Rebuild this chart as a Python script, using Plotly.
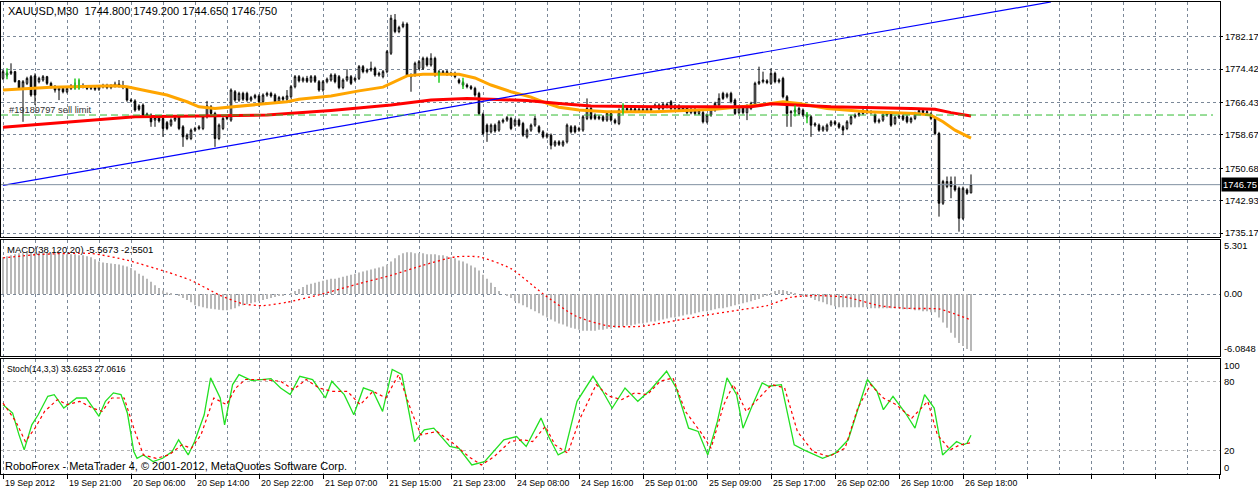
import plotly.graph_objects as go

# ---------------- price data (XAUUSD, M30), one value per bar ----------------
OPEN = [
    1772.2, 1773.0, 1773.4, 1773.8, 1771.6, 1769.8, 1771.0, 1772.6, 1772.8, 1771.4,
    1771.8, 1772.6, 1771.0, 1770.2, 1769.4, 1769.8, 1769.0, 1769.8, 1770.4, 1770.0,
    1770.5, 1770.2, 1769.8, 1770.0, 1769.6, 1770.2, 1770.5, 1770.0, 1770.4, 1770.8,
    1770.4, 1770.0, 1767.0, 1766.8, 1765.6, 1765.8, 1763.4, 1763.4, 1762.2, 1762.8,
    1762.6, 1761.6, 1761.0, 1762.2, 1763.0, 1760.6, 1757.8, 1757.8, 1759.8, 1760.2,
    1760.2, 1763.0, 1765.4, 1763.8, 1757.8, 1760.2, 1762.6, 1762.2, 1769.0, 1767.0,
    1768.6, 1768.6, 1767.0, 1767.6, 1768.0, 1766.6, 1768.2, 1768.6, 1768.2, 1766.6,
    1767.6, 1767.2, 1767.8, 1770.2, 1772.6, 1771.6, 1772.2, 1771.5, 1772.6, 1771.4,
    1769.4, 1771.4, 1771.8, 1773.0, 1772.6, 1770.0, 1771.8, 1772.6, 1771.8, 1772.2,
    1775.0, 1773.8, 1774.2, 1774.6, 1773.0, 1772.6, 1773.8, 1778.2, 1786.2, 1783.4,
    1784.6, 1785.2, 1773.0, 1773.0, 1774.6, 1774.6, 1777.0, 1775.4, 1777.0, 1773.8,
    1773.4, 1773.8, 1773.2, 1773.4, 1771.8, 1771.2, 1770.6, 1770.2, 1769.8, 1768.6,
    1763.6, 1761.0, 1759.4, 1761.0, 1759.8, 1761.8, 1762.2, 1762.6, 1761.0, 1762.2,
    1761.4, 1758.2, 1759.8, 1761.0, 1760.6, 1759.4, 1758.2, 1758.6, 1756.2, 1757.0,
    1756.2, 1757.0, 1760.6, 1760.6, 1759.8, 1759.8, 1762.6, 1765.0, 1763.4, 1762.6,
    1763.0, 1762.2, 1763.8, 1762.2, 1761.4, 1764.6, 1765.0, 1764.6, 1764.9, 1764.3,
    1764.8, 1764.4, 1764.9, 1765.4, 1765.8, 1765.0, 1766.0, 1766.6, 1765.0, 1765.6,
    1764.6, 1765.2, 1764.0, 1764.8, 1763.8, 1764.0, 1761.8, 1763.4, 1764.6, 1765.8,
    1768.6, 1767.8, 1768.6, 1767.0, 1764.0, 1765.3, 1764.0, 1765.0, 1765.8, 1771.0,
    1771.4, 1771.6, 1771.0, 1773.4, 1771.4, 1772.2, 1767.8, 1764.0, 1764.2, 1763.8,
    1764.6, 1763.4, 1763.0, 1761.0, 1761.0, 1759.8, 1759.8, 1761.0, 1761.8, 1761.3,
    1760.6, 1760.2, 1761.4, 1763.0, 1763.4, 1763.8, 1764.5, 1764.0, 1763.4, 1761.8,
    1762.2, 1763.4, 1763.8, 1761.4, 1762.9, 1763.2, 1763.0, 1761.8, 1762.6, 1763.8,
    1764.5, 1764.0, 1763.7, 1762.6, 1759.0, 1742.3, 1746.3, 1747.5, 1746.5, 1745.9,
    1738.7, 1745.5, 1744.8,
]
CLOSE = [
    1773.8, 1773.4, 1773.8, 1771.4, 1769.8, 1771.4, 1772.2, 1768.2, 1768.2, 1772.2,
    1772.6, 1771.0, 1770.2, 1769.4, 1769.8, 1769.0, 1769.8, 1770.4, 1770.0, 1770.5,
    1770.2, 1769.8, 1770.0, 1769.6, 1770.2, 1770.5, 1770.0, 1770.4, 1770.8, 1770.4,
    1770.0, 1767.0, 1766.8, 1764.6, 1764.8, 1763.4, 1763.6, 1761.8, 1762.8, 1762.0,
    1760.2, 1760.2, 1762.2, 1762.8, 1760.2, 1758.2, 1758.6, 1759.8, 1760.2, 1760.6,
    1763.0, 1765.6, 1763.8, 1757.8, 1761.0, 1762.6, 1763.0, 1769.4, 1767.0, 1768.6,
    1767.2, 1767.0, 1767.6, 1768.1, 1766.6, 1768.2, 1768.6, 1768.0, 1766.6, 1767.6,
    1767.2, 1768.0, 1770.2, 1772.6, 1771.6, 1772.2, 1771.5, 1772.6, 1771.5, 1769.4,
    1771.4, 1772.0, 1773.0, 1771.4, 1770.0, 1771.8, 1772.6, 1771.0, 1772.2, 1775.0,
    1773.8, 1774.2, 1774.6, 1773.0, 1773.4, 1773.8, 1778.6, 1786.6, 1783.4, 1784.4,
    1785.2, 1773.0, 1772.6, 1775.8, 1776.2, 1777.0, 1775.4, 1777.0, 1773.0, 1773.4,
    1773.8, 1773.2, 1773.4, 1772.6, 1771.2, 1770.6, 1770.2, 1769.8, 1768.2, 1763.8,
    1759.0, 1759.4, 1761.0, 1759.6, 1761.8, 1762.2, 1762.8, 1760.2, 1762.2, 1761.0,
    1758.6, 1759.8, 1761.0, 1762.6, 1759.4, 1758.2, 1758.8, 1756.2, 1757.0, 1756.4,
    1757.0, 1761.0, 1759.4, 1759.4, 1760.2, 1763.0, 1765.0, 1762.6, 1762.6, 1763.0,
    1762.2, 1763.8, 1762.2, 1761.6, 1764.6, 1765.0, 1764.6, 1764.9, 1764.3, 1764.8,
    1764.4, 1764.9, 1764.6, 1765.8, 1765.0, 1766.0, 1765.4, 1765.0, 1765.6, 1764.6,
    1765.2, 1764.0, 1764.8, 1763.8, 1764.5, 1761.8, 1763.4, 1765.0, 1766.2, 1767.4,
    1767.4, 1768.4, 1766.6, 1763.8, 1765.3, 1764.0, 1765.6, 1766.2, 1771.0, 1771.4,
    1771.8, 1771.2, 1773.4, 1771.4, 1771.8, 1767.8, 1763.8, 1764.2, 1764.6, 1765.0,
    1763.4, 1763.0, 1761.0, 1761.3, 1759.8, 1760.5, 1761.0, 1761.8, 1761.3, 1760.5,
    1759.8, 1761.8, 1763.0, 1763.4, 1763.8, 1764.5, 1764.0, 1764.2, 1761.8, 1762.2,
    1763.4, 1763.7, 1761.0, 1762.9, 1763.2, 1762.4, 1761.8, 1762.6, 1763.8, 1764.5,
    1764.0, 1764.2, 1762.6, 1759.0, 1742.3, 1747.5, 1747.5, 1746.3, 1745.5, 1738.7,
    1745.9, 1744.7, 1746.75,
]
UPPER_WICK = [
    0.4, 0.4, 2.0, 0.2, 0.2, 0.4, 0.4, 0.4, 0.6, 0.4,
    0.4, 0.2, 0.4, 0.4, 0.4, 0.4, 0.4, 0.4, 0.8, 1.3,
    0.5, 0.4, 0.4, 0.4, 0.4, 0.4, 0.4, 0.4, 0.6, 1.0,
    1.2, 0.2, 0.4, 0.4, 0.4, 0.4, 0.4, 0.4, 0.4, 0.4,
    0.4, 0.4, 0.4, 0.4, 0.4, 0.4, 0.4, 0.4, 0.4, 0.4,
    0.4, 1.2, 0.4, 0.4, 0.4, 0.4, 0.4, 0.4, 0.4, 0.4,
    0.4, 0.4, 0.4, 0.4, 0.4, 0.4, 0.4, 0.4, 0.4, 0.4,
    0.4, 1.4, 0.4, 0.4, 0.4, 0.4, 0.6, 0.4, 0.4, 0.4,
    0.4, 0.4, 0.4, 0.4, 0.4, 0.4, 1.8, 0.4, 0.4, 0.4,
    0.4, 0.4, 1.6, 0.4, 0.4, 0.4, 0.4, 0.8, 1.4, 0.4,
    0.6, 0.4, 0.4, 0.4, 0.4, 0.4, 0.4, 1.2, 0.4, 0.4,
    0.4, 0.4, 0.4, 0.4, 0.4, 0.4, 0.4, 0.4, 0.4, 0.4,
    0.4, 0.4, 0.4, 0.4, 0.4, 0.4, 0.4, 0.4, 0.4, 0.4,
    0.4, 0.4, 0.4, 0.6, 0.4, 0.4, 0.4, 0.4, 0.4, 0.4,
    0.4, 0.4, 0.4, 0.4, 0.4, 0.4, 2.4, 0.4, 0.4, 0.4,
    0.4, 0.4, 0.4, 0.4, 0.4, 0.4, 0.4, 0.4, 0.4, 0.4,
    0.4, 0.4, 0.4, 0.4, 0.4, 0.4, 0.4, 0.4, 0.4, 0.4,
    0.4, 0.4, 0.4, 0.4, 0.4, 0.4, 0.4, 0.4, 0.4, 1.2,
    0.4, 0.4, 0.4, 0.4, 0.4, 0.4, 0.4, 0.4, 0.4, 3.6,
    2.0, 0.4, 1.2, 0.4, 0.4, 0.4, 0.4, 0.4, 0.4, 0.4,
    0.4, 0.4, 0.4, 0.4, 0.4, 0.4, 0.4, 0.4, 0.4, 0.4,
    0.4, 0.4, 0.4, 0.4, 0.4, 0.8, 0.4, 0.4, 0.4, 0.4,
    0.4, 0.4, 0.4, 0.4, 0.4, 0.4, 0.4, 0.4, 0.4, 0.4,
    0.4, 0.4, 0.4, 0.4, 0.4, 0.4, 1.2, 1.2, 2.2, 0.4,
    0.4, 0.4, 2.45,
]
LOWER_WICK = [
    0.4, 0.4, 0.4, 0.2, 0.4, 8.0, 0.4, 0.4, 2.4, 0.4,
    0.4, 0.4, 0.4, 0.6, 2.4, 0.4, 0.4, 0.4, 0.4, 0.3,
    0.4, 0.4, 0.4, 0.4, 0.4, 0.4, 0.4, 0.4, 0.4, 0.4,
    0.4, 0.4, 0.4, 0.4, 0.4, 0.4, 0.4, 1.2, 1.6, 0.4,
    2.0, 0.4, 0.4, 0.4, 0.4, 2.4, 0.4, 0.4, 0.4, 0.4,
    0.4, 0.4, 0.4, 2.0, 0.4, 0.4, 0.4, 0.4, 0.4, 0.4,
    0.4, 0.4, 0.4, 0.4, 1.2, 0.4, 0.4, 0.4, 0.4, 0.4,
    0.4, 0.4, 0.4, 0.4, 0.4, 0.4, 0.4, 0.4, 0.4, 0.4,
    0.4, 0.4, 0.4, 0.4, 0.4, 0.4, 0.4, 0.4, 0.4, 0.4,
    0.4, 0.4, 0.4, 0.4, 0.4, 0.4, 0.4, 0.4, 0.4, 0.4,
    0.4, 0.4, 3.6, 0.4, 0.4, 0.4, 0.4, 0.4, 0.4, 0.4,
    0.4, 0.4, 0.4, 0.4, 0.4, 0.4, 0.4, 0.4, 0.4, 0.4,
    0.4, 2.4, 0.4, 0.4, 0.4, 0.4, 0.4, 0.4, 0.4, 0.4,
    0.4, 0.4, 0.4, 0.4, 0.4, 0.4, 0.4, 1.0, 0.4, 0.4,
    0.4, 0.4, 0.4, 0.4, 0.4, 0.4, 0.4, 0.4, 0.4, 0.4,
    0.4, 0.4, 0.4, 0.4, 0.4, 0.4, 0.4, 0.4, 0.4, 0.4,
    0.4, 0.4, 0.4, 0.4, 0.4, 0.4, 0.4, 0.4, 0.4, 0.4,
    0.4, 0.4, 0.4, 0.4, 0.4, 0.4, 0.4, 0.4, 0.4, 0.4,
    0.4, 0.4, 0.4, 0.4, 0.4, 0.4, 1.8, 0.4, 0.4, 0.4,
    0.4, 0.4, 0.4, 0.4, 0.4, 0.4, 3.2, 3.4, 0.4, 0.4,
    0.4, 0.4, 2.8, 0.4, 0.4, 0.4, 0.4, 0.4, 0.4, 0.4,
    1.2, 0.4, 0.4, 0.4, 0.4, 0.4, 0.4, 0.4, 0.4, 0.4,
    0.4, 0.4, 0.4, 0.4, 0.4, 0.4, 0.4, 0.4, 0.4, 0.4,
    0.4, 0.4, 0.4, 0.4, 3.2, 0.4, 0.4, 2.8, 0.4, 3.2,
    0.4, 0.4, 0.15,
]
HIGH = [max(o, c) + w for o, c, w in zip(OPEN, CLOSE, UPPER_WICK)]
LOW = [min(o, c) - w for o, c, w in zip(OPEN, CLOSE, LOWER_WICK)]
BARS = list(range(len(CLOSE)))

# ---------------- moving averages (read at selected bars) ----------------
ORANGE_BARS = [0, 12, 28, 31, 37, 41, 46, 49, 53, 58, 64, 71, 74, 79, 82, 89, 95, 101, 105, 114,
               118, 122, 127, 132, 136, 139, 144, 151, 163, 178, 189, 195, 199, 206, 216, 228,
               232, 235, 238, 242]
ORANGE_VALS = [1769.4, 1770.1, 1770.4, 1770.2, 1769.0, 1768.2, 1766.6, 1765.4, 1765.0, 1765.4,
               1766.0, 1766.6, 1767.2, 1767.7, 1768.0, 1769.2, 1770.1, 1772.8, 1773.2, 1773.2,
               1772.3, 1770.6, 1769.0, 1767.7, 1766.2, 1765.3, 1764.6, 1764.2, 1764.2, 1764.8,
               1765.8, 1766.6, 1766.2, 1765.0, 1764.2, 1763.8, 1763.4, 1761.8, 1759.8, 1757.9]
RED_BARS = [0, 16, 33, 49, 66, 82, 97, 107, 116, 122, 131, 139, 147, 163, 187, 192, 207, 227,
            233, 237, 242]
RED_VALS = [1760.5, 1761.8, 1763.0, 1763.2, 1763.4, 1764.5, 1765.8, 1767.0, 1767.4, 1767.2,
            1766.9, 1766.2, 1765.6, 1765.4, 1765.4, 1766.1, 1765.4, 1765.0, 1764.8, 1764.0, 1763.2]

TREND_BARS = [0, 262]
TREND_PRICES = [1746.6, 1790.5]

MARK_BARS = [1, 18, 19, 109, 115, 155, 198, 201]
MARK_PRICES = [1773.3, 1770.8, 1770.8, 1772.5, 1771.0, 1764.9, 1764.4, 1762.8]

PRICE_TICKS = [1782.17, 1774.42, 1766.43, 1758.67, 1750.68, 1742.93, 1735.17]
CURRENT_PRICE = 1746.75
SELL_LIMIT = 1763.42
SELL_LIMIT_LABEL = "#19189797 sell limit"
PRICE_RANGE = [1734.22, 1790.48]

# ---------------- MACD(38,120,20) ----------------
MACD_HIST = [
    3.6, 3.7, 3.8, 3.9, 4.0, 4.0, 4.1, 4.1, 4.1,
    4.1, 4.1, 4.1, 4.0, 4.0, 4.0, 3.9, 3.9, 3.9, 3.9, 3.8, 3.8,
    3.7, 3.6, 3.4, 3.2, 3.1, 3.05, 3.0, 2.95, 2.9, 2.8,
    2.7, 2.55, 2.3, 2.0, 1.8, 1.5, 1.2, 0.85, 0.6, 0.35,
    0.15, 0.05, 0.0, -0.15, -0.4, -0.6, -0.8, -1.1, -1.2, -1.3,
    -1.4, -1.45, -1.5, -1.55, -1.6, -1.6, -1.5, -1.4, -1.2, -1.1,
    -1.0, -0.9, -0.8, -0.7, -0.6, -0.5, -0.4, -0.3, -0.2, -0.1,
    0.0, 0.1, 0.3, 0.5, 0.7, 0.9, 1.0, 1.1, 1.2, 1.3,
    1.4, 1.5, 1.5, 1.6, 1.7, 1.8, 1.9, 2.0, 2.1, 2.2,
    2.3, 2.4, 2.5, 2.6, 2.7, 2.9, 3.2, 3.5, 3.8, 4.0,
    4.1, 4.1, 4.0, 4.0, 4.0, 3.9, 3.9, 3.9, 3.8, 3.8,
    3.7, 3.6, 3.5, 3.3, 3.2, 3.0, 2.8, 2.6, 2.3, 1.9,
    1.5, 1.1, 0.7, 0.3, 0.0, -0.2, -0.4, -0.7, -0.9, -1.1,
    -1.3, -1.5, -1.7, -1.9, -2.1, -2.3, -2.5, -2.7, -2.9, -3.0,
    -3.2, -3.3, -3.4, -3.5, -3.6, -3.6, -3.6, -3.6, -3.5, -3.5,
    -3.4, -3.4, -3.3, -3.3, -3.2, -3.1, -3.1, -3.0, -2.9, -2.9,
    -2.8, -2.7, -2.7, -2.6, -2.5, -2.4, -2.3, -2.3, -2.2, -2.1,
    -2.0, -2.0, -1.9, -1.8, -1.7, -1.7, -1.6, -1.5, -1.4, -1.4,
    -1.3, -1.2, -1.1, -1.0, -0.9, -0.8, -0.7, -0.6, -0.5, -0.3,
    -0.1, 0.1, 0.3, 0.4, 0.4, 0.3, 0.2, 0.1, 0.0, -0.1,
    -0.3, -0.4, -0.6, -0.7, -0.8, -1.0, -1.1, -1.2, -1.3, -1.3,
    -1.3, -1.3, -1.3, -1.3, -1.3, -1.3, -1.4, -1.4, -1.4, -1.4,
    -1.4, -1.4, -1.4, -1.4, -1.5, -1.5, -1.5, -1.6, -1.6, -1.7,
    -1.7, -1.8, -1.8, -2.3, -2.8, -3.3, -3.8, -4.3, -4.8, -5.1, -5.4, -5.6,
]
SIGNAL_BARS = [0, 9, 22, 31, 41, 47, 54, 60, 65, 71, 79, 89, 97, 105, 113, 119, 127, 135, 143,
               151, 159, 168, 175, 183, 191, 197, 203, 211, 219, 226, 234, 238, 242]
SIGNAL_VALS = [3.54, 3.88, 3.98, 3.32, 2.16, 1.34, -0.08, -0.97, -1.14, -0.81, -0.08, 1.01, 1.83,
               2.82, 3.64, 3.64, 2.49, 0.02, -2.13, -3.12, -3.19, -2.62, -2.13, -1.63, -1.14,
               -0.32, -0.15, -0.32, -1.14, -1.41, -1.47, -1.96, -2.55]
MACD_RANGE = [-6.0848, 5.301]
MACD_TITLE = "MACD(38,120,20) -5.5673 -2.5501"

# ---------------- Stochastic(14,3,3) ----------------
K_BARS = [0.0, 2.4, 4.0, 5.3, 7.2, 8.8, 11.2, 12.8, 15.2, 18.4, 20.8, 24.0, 25.6, 27.6, 29.5,
          31.1, 32.7, 33.5, 35.1, 37.5, 39.9, 42.3, 43.9, 46.3, 47.9, 50.3, 51.9, 54.3, 55.4,
          57.4, 59.0, 62.2, 67.0, 69.4, 71.8, 74.2, 77.4, 80.6, 82.2, 85.3, 87.7, 90.1, 92.5,
          94.9, 97.3, 99.7, 102.9, 105.3, 107.7, 111.7, 114.0, 117.2, 120.4, 125.2, 128.4,
          130.8, 134.5, 136.4, 138.8, 140.4, 143.5, 147.5, 149.9, 152.3, 155.5, 158.7, 161.9,
          165.9, 168.3, 171.4, 173.8, 176.2, 178.6, 181.0, 183.4, 185.0, 187.4, 189.8, 191.4,
          194.6, 197.8, 200.2, 204.9, 208.1, 211.3, 216.1, 218.5, 220.1, 222.5, 225.6, 228.0,
          230.4, 232.8, 234.9, 238.4, 240.0, 241.0, 242.0]
K_VALS = [60.0, 52.8, 33.9, 20.9, 42.6, 51.3, 67.3, 68.7, 57.1, 65.8, 65.8, 49.9, 62.9, 70.2,
          68.7, 52.8, 19.4, 13.6, 16.5, 10.7, 13.6, 19.4, 29.6, 16.5, 28.1, 51.3, 83.2, 65.8,
          42.6, 77.4, 86.1, 80.9, 82.6, 74.5, 68.7, 84.6, 81.8, 65.8, 80.3, 68.7, 51.3, 74.5,
          71.6, 54.2, 90.5, 86.1, 28.1, 38.3, 39.7, 23.8, 22.3, 7.8, 10.7, 29.6, 32.4, 23.8,
          48.4, 32.4, 16.5, 19.4, 62.9, 84.6, 71.6, 57.1, 74.5, 62.9, 73.0, 89.0, 74.5, 39.7,
          36.8, 16.5, 45.5, 83.2, 68.7, 39.7, 60.0, 78.9, 76.0, 77.4, 25.2, 20.9, 13.6, 18.0,
          29.6, 81.8, 71.6, 55.7, 67.3, 52.8, 39.7, 68.7, 57.1, 16.5, 28.1, 25.2, 26.6, 33.6]
D_BARS = [0.0, 3.2, 5.6, 8.0, 10.4, 13.6, 16.0, 19.2, 22.4, 24.8, 27.2, 30.3, 32.7, 35.1, 38.3,
          41.5, 44.7, 47.1, 49.5, 52.7, 55.9, 58.2, 60.6, 64.6, 69.4, 72.6, 75.8, 79.0, 82.2,
          86.1, 89.3, 92.5, 95.7, 98.9, 102.1, 104.5, 108.5, 112.5, 116.4, 119.6, 122.8, 126.8,
          130.0, 132.4, 135.6, 138.0, 141.2, 144.3, 148.3, 151.5, 154.7, 157.9, 161.1, 164.3,
          167.5, 170.6, 174.6, 177.0, 180.2, 182.6, 185.8, 189.0, 192.2, 195.4, 198.6, 202.5,
          206.5, 210.5, 213.7, 216.9, 220.1, 223.3, 227.2, 231.2, 233.6, 236.8, 239.2, 242.0]
D_VALS = [61.4, 45.5, 28.1, 39.7, 54.2, 64.4, 60.0, 62.9, 57.1, 54.2, 65.8, 65.8, 39.7, 16.5,
          13.6, 16.5, 25.2, 22.3, 33.9, 65.8, 60.0, 74.5, 81.8, 81.8, 80.3, 73.1, 81.8, 74.5,
          71.6, 71.6, 60.0, 71.6, 65.8, 86.1, 54.2, 33.9, 36.8, 26.7, 15.1, 7.8, 15.1, 28.1,
          29.6, 28.1, 41.2, 25.2, 18.0, 48.4, 77.4, 67.3, 64.4, 70.2, 68.7, 80.3, 83.2, 54.2,
          35.4, 22.3, 60.0, 77.4, 54.2, 65.8, 77.4, 74.5, 36.8, 19.4, 15.1, 22.3, 57.1, 77.4,
          65.8, 60.0, 48.4, 62.9, 33.9, 20.9, 25.2, 27.1]
STOCH_TITLE = "Stoch(14,3,3) 33.6253 27.0616"

DATE_LABELS = ["19 Sep 2012", "19 Sep 21:00", "20 Sep 06:00", "20 Sep 14:00", "20 Sep 22:00",
               "21 Sep 07:00", "21 Sep 15:00", "21 Sep 23:00", "24 Sep 08:00", "24 Sep 16:00",
               "25 Sep 01:00", "25 Sep 09:00", "25 Sep 17:00", "26 Sep 02:00", "26 Sep 10:00",
               "26 Sep 18:00"]
DATE_LABEL_BARS = [0, 16, 32, 48, 64, 80, 96, 112, 128, 144, 160, 176, 192, 208, 224, 240]

HEADER = "XAUUSD,M30\u00a0\u00a01744.800 1749.200 1744.650 1746.750"
FOOTER = "RoboForex - MetaTrader 4, \u00a9 2001-2012, MetaQuotes Software Corp."

# ---------------- figure ----------------
FONT = "Liberation Sans, Arial, sans-serif"
GRID = "#7B8898"
XR = [-0.5, 304.25]
W, H = 1258, 491
ML, MR, MT, MB = 1, 38, 2, 17
PH = H - MT - MB
PW = W - ML - MR


def py(pix):
    return (H - MB - pix) / PH


def px(pix):
    return (pix - ML) / PW


fig = go.Figure()

fig.add_trace(go.Candlestick(
    x=BARS, open=OPEN, high=HIGH, low=LOW, close=CLOSE,
    increasing=dict(line=dict(color="black", width=1), fillcolor="white"),
    decreasing=dict(line=dict(color="black", width=1), fillcolor="black"),
    whiskerwidth=0, hoverinfo="skip", xaxis="x", yaxis="y", showlegend=False))

fig.add_trace(go.Scatter(x=ORANGE_BARS, y=ORANGE_VALS, mode="lines",
                         line=dict(color="#FFA500", width=3), xaxis="x", yaxis="y",
                         hoverinfo="skip", showlegend=False))
fig.add_trace(go.Scatter(x=RED_BARS, y=RED_VALS, mode="lines",
                         line=dict(color="#FF0000", width=3), xaxis="x", yaxis="y",
                         hoverinfo="skip", showlegend=False))
fig.add_trace(go.Scatter(x=TREND_BARS, y=TREND_PRICES, mode="lines",
                         line=dict(color="#0000FF", width=1.2), xaxis="x", yaxis="y",
                         hoverinfo="skip", showlegend=False))
fig.add_trace(go.Scatter(x=MARK_BARS, y=MARK_PRICES, mode="markers",
                         marker=dict(symbol="line-ns", size=8,
                                     line=dict(color="#22CC22", width=1.5)),
                         xaxis="x", yaxis="y", hoverinfo="skip", showlegend=False))

fig.add_trace(go.Bar(x=BARS, y=MACD_HIST, width=0.3, marker=dict(color="#B8B8B8", line=dict(width=0)),
                     xaxis="x2", yaxis="y2", hoverinfo="skip", showlegend=False))
fig.add_trace(go.Scatter(x=SIGNAL_BARS, y=SIGNAL_VALS, mode="lines",
                         line=dict(color="#FF0000", width=1.3, dash="2px,3px", shape="spline",
                                   smoothing=0.6),
                         xaxis="x2", yaxis="y2", hoverinfo="skip", showlegend=False))

fig.add_trace(go.Scatter(x=K_BARS, y=K_VALS, mode="lines",
                         line=dict(color="#22E022", width=1.3), xaxis="x3", yaxis="y3",
                         hoverinfo="skip", showlegend=False))
fig.add_trace(go.Scatter(x=D_BARS, y=D_VALS, mode="lines",
                         line=dict(color="#FF0000", width=1.2, dash="3px,3px"),
                         xaxis="x3", yaxis="y3", hoverinfo="skip", showlegend=False))

xcommon = dict(range=XR, showgrid=True, gridcolor=GRID, griddash="3px,3px", gridwidth=1,
               tick0=0, dtick=8, showticklabels=False, zeroline=False,
               showline=True, mirror=True, linecolor="black", linewidth=1, fixedrange=True)
ycommon = dict(zeroline=False, showline=True, mirror=True, linecolor="black", linewidth=1,
               fixedrange=True)

fig.update_layout(
    width=W, height=H, margin=dict(l=ML, r=MR, t=MT, b=MB),
    paper_bgcolor="white", plot_bgcolor="white", showlegend=False, hovermode=False,
    boxgap=0.45,
    font=dict(family=FONT, size=10, color="black"),
    xaxis=dict(anchor="y", rangeslider=dict(visible=False), **xcommon),
    xaxis2=dict(anchor="y2", **xcommon),
    xaxis3=dict(anchor="y3", ticks="outside", ticklen=4, tickcolor="black",
                minor=dict(tick0=0, dtick=8, showgrid=True, gridcolor=GRID, griddash="3px,3px"),
                **{**xcommon, "dtick": 16}),
    yaxis=dict(domain=[py(237), 1], range=PRICE_RANGE, side="right",
               tickvals=PRICE_TICKS, ticktext=[f"{v:.2f}" for v in PRICE_TICKS],
               ticks="outside", ticklen=2, tickcolor="black", automargin=False,
               tickfont=dict(family=FONT, size=9.4, color="black"),
               showgrid=True, gridcolor=GRID, griddash="3px,3px", **ycommon),
    yaxis2=dict(domain=[py(356), py(240)], range=MACD_RANGE, side="right",
                tickvals=[0], showticklabels=False, showgrid=True, gridcolor=GRID,
                griddash="3px,3px", **ycommon),
    yaxis3=dict(domain=[0, py(358.5)], range=[0, 100], side="right",
                tickvals=[20, 80], showticklabels=False, showgrid=True, gridcolor="#B4B4B4",
                griddash="3px,3px", **ycommon),
)

fig.add_shape(type="line", xref="x", yref="y", x0=XR[0], x1=XR[1], y0=CURRENT_PRICE,
              y1=CURRENT_PRICE, line=dict(color="#8090A0", width=1))
fig.add_shape(type="line", xref="x", yref="y", x0=XR[0], x1=302.5, y0=SELL_LIMIT,
              y1=SELL_LIMIT, line=dict(color="#33BB33", width=1, dash="7px,4px"))

ann = []
for b, t in zip(DATE_LABEL_BARS, DATE_LABELS):
    ann.append(dict(x=b, xref="x3", y=py(482.5), yref="paper", text=t, showarrow=False,
                    xanchor="left", yanchor="middle", xshift=0,
                    font=dict(family=FONT, size=8.8, color="black")))
ann.append(dict(x=1, xref="paper", y=CURRENT_PRICE, yref="y", text=f"{CURRENT_PRICE:.2f}",
                showarrow=False, xanchor="left", yanchor="middle", xshift=1,
                bgcolor="black", borderpad=1, font=dict(family=FONT, size=9.4, color="white")))
for txt, pix in [("5.301", 246), ("0.00", 293.5), ("-6.0848", 349),
                 ("100", 365), ("80", 381.7), ("20", 450.5), ("0", 467.5)]:
    ann.append(dict(x=1, xref="paper", y=py(pix), yref="paper", text=txt, showarrow=False,
                    xanchor="left", yanchor="middle", xshift=2,
                    font=dict(family=FONT, size=9.4, color="black")))
ann.append(dict(x=px(6), xref="paper", y=py(11), yref="paper", text=HEADER,
                showarrow=False, xanchor="left", yanchor="middle",
                font=dict(family=FONT, size=11, color="black")))
ann.append(dict(x=px(5), xref="paper", y=py(249), yref="paper", text=MACD_TITLE,
                showarrow=False, xanchor="left", yanchor="middle",
                font=dict(family=FONT, size=9.5, color="black")))
ann.append(dict(x=px(5), xref="paper", y=py(369), yref="paper", text=STOCH_TITLE,
                showarrow=False, xanchor="left", yanchor="middle",
                font=dict(family=FONT, size=8.6, color="black")))
ann.append(dict(x=px(3), xref="paper", y=py(466), yref="paper", text=FOOTER,
                showarrow=False, xanchor="left", yanchor="middle",
                font=dict(family=FONT, size=11, color="black")))
ann.append(dict(x=px(7), xref="paper", y=py(110), yref="paper",
                text=SELL_LIMIT_LABEL, showarrow=False, xanchor="left", yanchor="middle",
                font=dict(family=FONT, size=9.3, color="#333333")))
fig.update_layout(annotations=ann)

fig.write_html("out.html", config={"displayModeBar": False},
               post_script="document.body.style.margin='0';document.body.style.padding='0';"
                           "document.body.style.overflow='hidden';")
